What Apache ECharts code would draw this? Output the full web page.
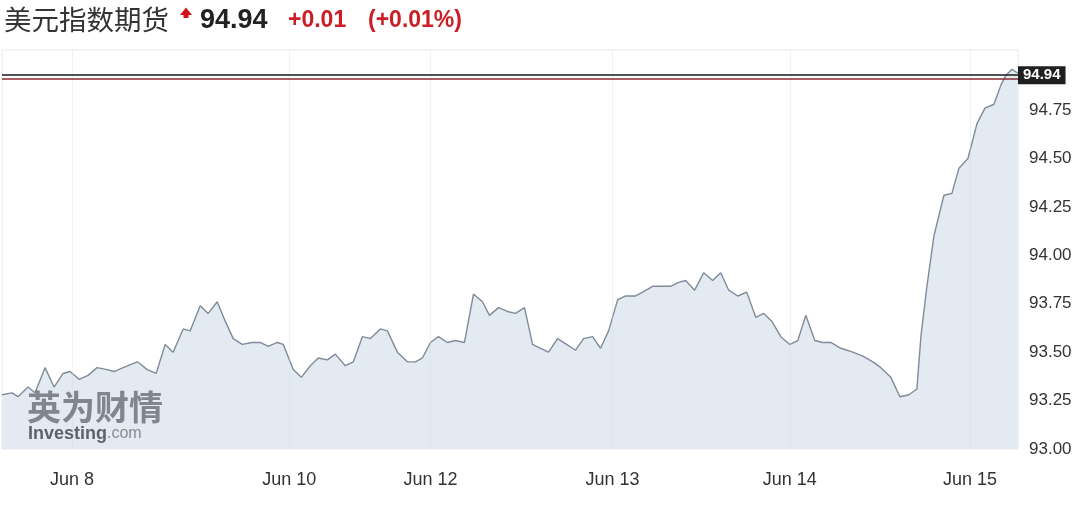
<!DOCTYPE html>
<html>
<head>
<meta charset="utf-8">
<script src="https://cdn.jsdelivr.net/npm/echarts@6/dist/echarts.min.js"></script>
<style>
  html, body { margin: 0; padding: 0; background: #fff; }
  #chart { width: 1080px; height: 510px; }
</style>
</head>
<body>
<div id="chart"></div>
<script>
// bar index (trading periods) and price
const times = [
  0, 2.5, 4, 6.5, 8.25, 10.75, 13, 15.25, 17, 19.25, 21.5, 23.75, 26.25, 28, 30.25, 33.75, 34.5, 36.25, 38.5, 40.75,
  42.75, 45.25, 47, 49.5, 51.5, 53.75, 55.75, 57.75, 60, 62.5, 64.5, 66.5, 68.75, 70.25, 72.75, 74.75, 77, 79, 81.25, 83.25,
  85.75, 87.75, 90, 92, 94.5, 96.25, 98.75, 101.25, 103.25, 105, 107, 109, 111.25, 113.25, 115.5, 117.75, 120, 121.75, 124, 126.25,
  128.25, 130.5, 132.5, 134.5, 136.5, 138.75, 141, 143.25, 145.25, 147.5, 149.5, 151.5, 153.75, 155.75, 158.25, 160, 162.5, 165, 167, 169,
  170.75, 173, 175.25, 177.5, 179.5, 181.5, 183.75, 186, 188.25, 190.25, 192.25, 194.5, 196.75, 198.75, 200.75, 203, 205, 207, 209.5, 212.5,
  215, 217.5, 219.5, 222, 224.25, 226.5, 228.5, 229.5, 231, 232.75, 235.25, 237.25, 239, 241.25, 243.5, 245.5, 247.75, 249.5, 250.75, 252.25,
  253.75
];
const prices = [
  93.28, 93.29, 93.27, 93.32, 93.29, 93.42, 93.32, 93.39, 93.40, 93.36, 93.38, 93.42, 93.41, 93.40, 93.42, 93.45, 93.44, 93.41, 93.39, 93.54,
  93.50, 93.62, 93.61, 93.74, 93.70, 93.76, 93.66, 93.57, 93.54, 93.55, 93.55, 93.53, 93.55, 93.54, 93.41, 93.37, 93.43, 93.47, 93.46, 93.49,
  93.43, 93.45, 93.58, 93.57, 93.62, 93.61, 93.50, 93.45, 93.45, 93.47, 93.55, 93.58, 93.55, 93.56, 93.55, 93.80, 93.76, 93.69, 93.73, 93.71,
  93.70, 93.73, 93.54, 93.52, 93.50, 93.57, 93.54, 93.51, 93.57, 93.58, 93.52, 93.61, 93.77, 93.79, 93.79, 93.81, 93.84, 93.84, 93.84, 93.86,
  93.87, 93.82, 93.91, 93.87, 93.91, 93.82, 93.79, 93.81, 93.68, 93.70, 93.66, 93.58, 93.54, 93.56, 93.69, 93.56, 93.55, 93.55, 93.52, 93.50,
  93.48, 93.45, 93.42, 93.37, 93.27, 93.28, 93.31, 93.58, 93.84, 94.10, 94.31, 94.32, 94.45, 94.50, 94.68, 94.76, 94.78, 94.88, 94.93, 94.96,
  94.94
];
const dateTicks = [17.5, 71.75, 107, 152.5, 196.75, 241.75];
const dateLabels = ['Jun 8', 'Jun 10', 'Jun 12', 'Jun 13', 'Jun 14', 'Jun 15'];
const lastPrice = '94.94';
const change = '+0.01';
const changePct = '(+0.01%)';

const chart = echarts.init(document.getElementById('chart'));

// very faint day separators
const vLines = dateTicks.map(t => ({
  xAxis: t,
  lineStyle: { color: 'rgba(205,214,225,0.35)', width: 1, type: 'solid' },
  label: { show: false }
}));

const option = {
  backgroundColor: '#ffffff',
  animation: false,
  textStyle: { fontFamily: 'Liberation Sans, Arial, sans-serif' },
  graphic: [
    {
      type: 'text', left: 4, top: 6,
      style: { text: '美元指数期货', font: '27.5px "Noto Sans CJK SC"', fill: '#333' }
    },
    {
      type: 'polygon',
      shape: { points: [[180, 15], [186, 7.5], [192, 15], [188.5, 15], [188.5, 18], [183.5, 18], [183.5, 15]] },
      style: { fill: '#d0121b' }
    },
    {
      type: 'text', left: 200, top: 7,
      style: { text: lastPrice, font: 'bold 27px "Liberation Sans"', fill: '#222' }
    },
    {
      type: 'text', left: 288, top: 9,
      style: { text: change, font: 'bold 23px "Liberation Sans"', fill: '#cc1c24' }
    },
    {
      type: 'text', left: 368, top: 9,
      style: { text: changePct, font: 'bold 23px "Liberation Sans"', fill: '#cc1c24' }
    },
    // watermark
    {
      type: 'text', left: 27, top: 390, z: 100,
      style: { text: '英为财情', font: 'bold 34px "Noto Sans CJK SC"', fill: 'rgba(95,100,105,0.75)' }
    },
    {
      type: 'text', left: 28, top: 425, z: 100,
      style: {
        text: '{a|Investing}{b|.com}',
        rich: {
          a: { font: 'bold 18px "Liberation Sans"', fill: 'rgba(70,75,80,0.85)' },
          b: { font: '16px "Liberation Sans"', fill: 'rgba(110,115,120,0.8)' }
        }
      }
    }
  ],
  grid: {
    left: 2, right: 62, top: 50, bottom: 61,
    show: true, borderColor: '#e6e9ed', borderWidth: 1, backgroundColor: '#fff'
  },
  xAxis: {
    type: 'value',
    min: 0,
    max: 253.75,
    axisLine: { show: false },
    axisTick: { show: false },
    splitLine: { show: false },
    axisLabel: {
      customValues: dateTicks,
      margin: 22,
      color: '#333',
      fontSize: 18,
      formatter: v => {
        const i = dateTicks.findIndex(t => Math.abs(t - v) < 0.01);
        return i >= 0 ? dateLabels[i] : '';
      }
    }
  },
  yAxis: {
    type: 'value',
    position: 'right',
    min: 93,
    max: 95.06,
    interval: 0.25,
    axisLine: { show: false },
    axisTick: { show: false },
    splitLine: { show: false },
    axisLabel: {
      margin: 11,
      color: '#333',
      fontSize: 17,
      formatter: v => (v > 94.9 ? '' : v.toFixed(2))
    }
  },
  series: [
    {
      type: 'line',
      data: times.map((t, i) => [t, prices[i]]),
      symbol: 'none',
      lineStyle: { color: '#7f8b98', width: 1.4 },
      areaStyle: { color: '#e4eaf2', opacity: 1 },
      markLine: {
        silent: true,
        symbol: 'none',
        data: [
          ...vLines,
          {
            yAxis: 94.926,
            lineStyle: { color: '#1a1a1a', width: 1.5, type: 'solid' },
            label: {
              show: true,
              position: 'end',
              distance: 0,
              formatter: lastPrice,
              color: '#fff',
              fontWeight: 'bold',
              fontSize: 15,
              backgroundColor: '#1f1f1f',
              padding: [2, 5, 1, 5]
            }
          },
          {
            yAxis: 94.913,
            lineStyle: { color: '#8a2a30', width: 1.5, type: 'solid' },
            label: { show: false }
          }
        ]
      }
    }
  ]
};

chart.setOption(option);
</script>
</body>
</html>
